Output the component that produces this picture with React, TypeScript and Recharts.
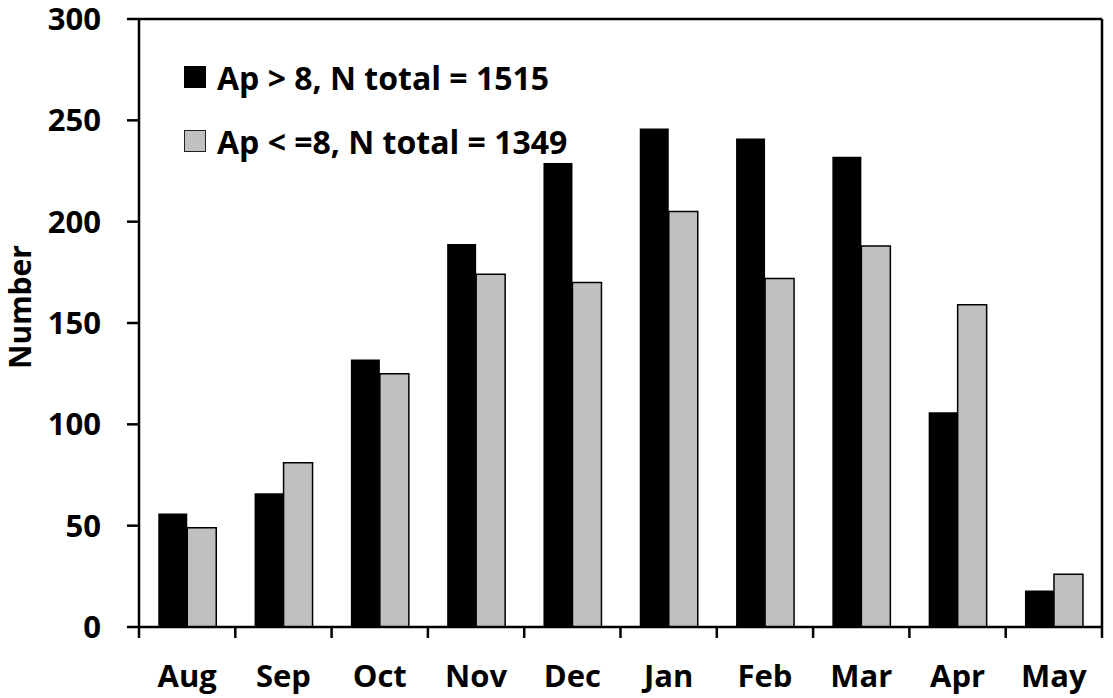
import React from "react";
import { Bar, BarChart, Legend, XAxis, YAxis } from "recharts";

// Monthly counts (sums match the legend totals).
const months = ["Aug", "Sep", "Oct", "Nov", "Dec", "Jan", "Feb", "Mar", "Apr", "May"];
const apHigh = [56, 66, 132, 189, 229, 246, 241, 232, 106, 18];
const apLow = [49, 81, 125, 174, 170, 205, 172, 188, 159, 26];
const yTicks = [0, 50, 100, 150, 200, 250, 300];
const highLabel = "Ap > 8, N total = 1515";
const lowLabel = "Ap < =8, N total = 1349";

const W = 1113;
const H = 698;
const Y_AXIS_W = 139;
const RIGHT_W = 11;
const TOP_H = 19;
const X_AXIS_H = 71;
const FONT = "'Open Sans', Lato, sans-serif";

const data = months.map((m, i) => ({ month: m, high: apHigh[i], low: apLow[i] }));

// width of one category band, used only to put the x tick marks on the band edges
const band = (W - Y_AXIS_W - RIGHT_W) / months.length;

function MonthTick(props: any) {
  const { x, y, payload, index } = props;
  const left = x - band / 2;
  const right = x + band / 2;
  return (
    <g>
      <line x1={left} x2={left} y1={y} y2={y + 11} stroke="#000" strokeWidth={2.5} />
      {index === months.length - 1 && (
        <line x1={right} x2={right} y1={y} y2={y + 11} stroke="#000" strokeWidth={2.5} />
      )}
      <text
        x={x}
        y={y + 60}
        textAnchor="middle"
        fill="#000"
        fontSize={31}
        fontWeight={700}
        fontFamily={FONT}
      >
        {payload.value}
      </text>
    </g>
  );
}

function LegendBox() {
  const rows = [
    { label: highLabel, fill: "#000", border: "#000" },
    { label: lowLabel, fill: "#c0c0c0", border: "#222" },
  ];
  return (
    <div style={{ fontFamily: FONT, fontWeight: 700, fontSize: 32, color: "#000" }}>
      {rows.map((r) => (
        <div key={r.label} style={{ display: "flex", alignItems: "center", height: 64 }}>
          <span
            style={{
              width: 22,
              height: 22,
              boxSizing: "border-box",
              background: r.fill,
              border: `1.5px solid ${r.border}`,
              marginRight: 11,
              display: "inline-block",
            }}
          />
          <span style={{ whiteSpace: "pre" }}>{r.label}</span>
        </div>
      ))}
    </div>
  );
}

export default function App() {
  return (
    <div style={{ position: "absolute", left: 0, top: 0, width: W, height: H, background: "#fff" }}>
      <BarChart
        width={W}
        height={H}
        data={data}
        margin={{ top: 0, right: 0, bottom: 0, left: 0 }}
        barCategoryGap="20%"
        barGap={0}
      >
        <XAxis
          dataKey="month"
          height={X_AXIS_H}
          axisLine={{ stroke: "#000", strokeWidth: 2.5 }}
          tickLine={false}
          tickSize={0}
          tickMargin={0}
          interval={0}
          tick={<MonthTick />}
        />
        <XAxis
          xAxisId="top"
          dataKey="month"
          orientation="top"
          height={TOP_H}
          axisLine={{ stroke: "#000", strokeWidth: 2.5 }}
          tick={false}
          tickLine={false}
        />
        <YAxis
          width={Y_AXIS_W}
          domain={[0, 300]}
          ticks={yTicks}
          interval={0}
          axisLine={{ stroke: "#000", strokeWidth: 2.5 }}
          tickLine={{ stroke: "#000", strokeWidth: 2.5 }}
          tickSize={12}
          tickMargin={26}
          tick={{ fill: "#000", fontSize: 31, fontWeight: 700, fontFamily: FONT }}
          label={{
            value: "Number",
            angle: -90,
            position: "insideLeft",
            offset: 20,
            dy: -16,
            style: { fill: "#000", fontSize: 30, fontWeight: 700, fontFamily: FONT, textAnchor: "middle" },
          }}
        />
        <YAxis
          yAxisId="right"
          orientation="right"
          width={RIGHT_W}
          domain={[0, 300]}
          axisLine={{ stroke: "#000", strokeWidth: 2.5 }}
          tick={false}
          tickLine={false}
        />
        <Legend
          layout="vertical"
          align="center"
          verticalAlign="middle"
          content={<LegendBox />}
          wrapperStyle={{ top: 45, left: 184, width: "auto", height: "auto" }}
        />
        <Bar dataKey="high" name={highLabel} fill="#000" isAnimationActive={false} />
        <Bar
          dataKey="low"
          name={lowLabel}
          fill="#c0c0c0"
          stroke="#000"
          strokeWidth={1.5}
          isAnimationActive={false}
        />
      </BarChart>
    </div>
  );
}
